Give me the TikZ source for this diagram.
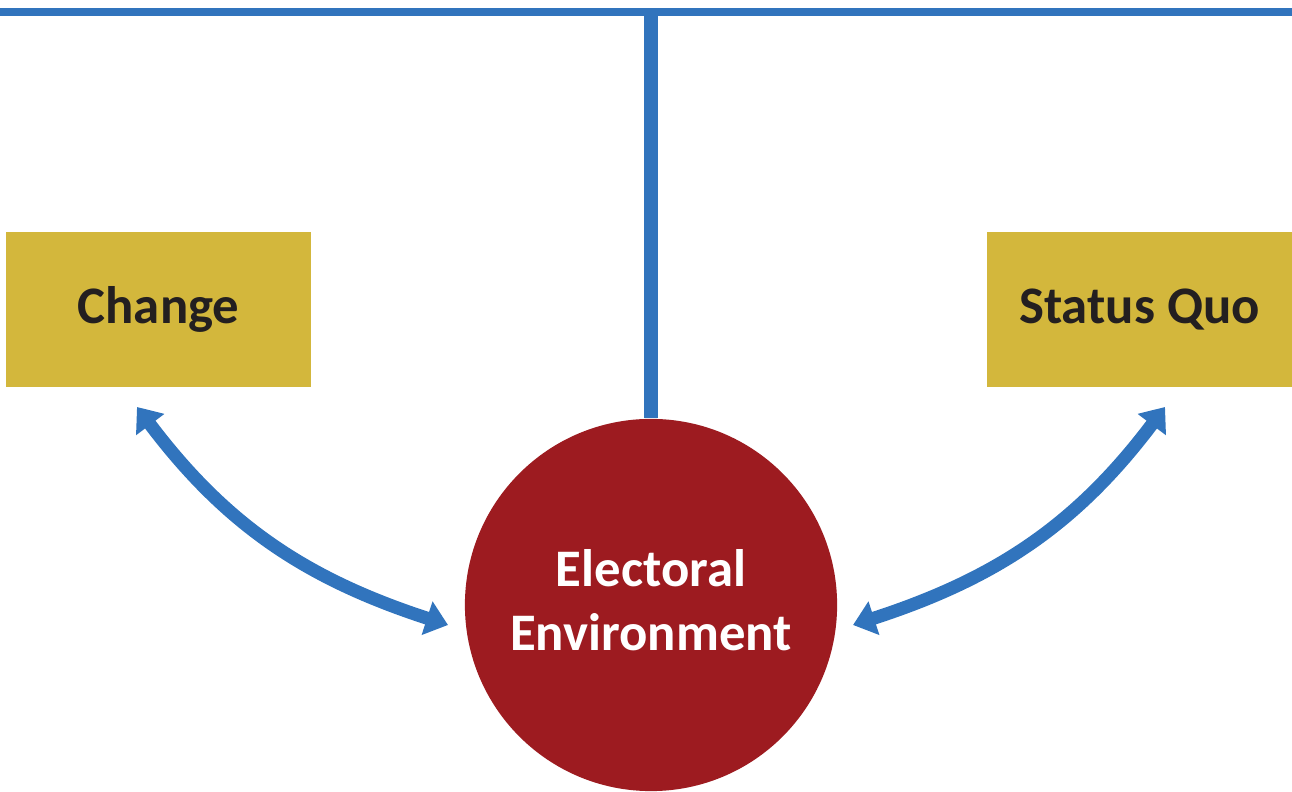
\documentclass[tikz,border=0pt]{standalone}
\usepackage{fontspec}
\setmainfont{Carlito}
\usetikzlibrary{arrows.meta}
\definecolor{lineblue}{RGB}{49,116,189}
\definecolor{boxgold}{RGB}{211,183,60}
\definecolor{circred}{RGB}{157,27,32}
\definecolor{inkdark}{RGB}{35,31,32}
\tikzset{
  choice/.style={fill=boxgold, minimum width=3.05cm, minimum height=1.55cm, inner sep=0pt,
    text=inkdark, font=\fontsize{15}{18}\selectfont\bfseries},
  hub/.style={circle, fill=circred, minimum size=3.72cm, inner sep=0pt, align=center,
    text depth=0.1cm, text=white, font=\fontsize{15}{18.3}\selectfont\bfseries},
  swing/.style={draw=lineblue, line width=0.13cm,
    {Triangle[width=0.34cm,length=0.22cm]}-{Triangle[width=0.34cm,length=0.22cm]}}
}
\begin{document}
\begin{tikzpicture}[x=0.01cm, y=0.01cm]
  %tikz  electoral environment between change and status quo
  \useasboundingbox (0,0) rectangle (1292,792);
  \coordinate (tl) at (0,780);
  \coordinate (tr) at (1292,780);
  \node[hub] (elec) at (651,187) {Electoral\\Environment};
  \node[choice] (change) at (158.5,482.5) {Change};
  \node[choice] (status) at (1139.5,482.5) {Status Quo};
  \draw[lineblue, line width=0.08cm] (tl) -- (tr);
  \draw[lineblue, line width=0.14cm] (elec.north) -- (elec.north |- tl);
  % arrow ends
  \coordinate (chgtip) at (137,385);
  \coordinate (chgin) at (448,167);
  \coordinate (sqtip) at (1165,385);
  \coordinate (sqin) at (853,167);
  \draw[swing] (chgtip) to[out=-53, in=162] (chgin);
  \draw[swing] (sqtip) to[out=233, in=18] (sqin);
\end{tikzpicture}
\end{document}
